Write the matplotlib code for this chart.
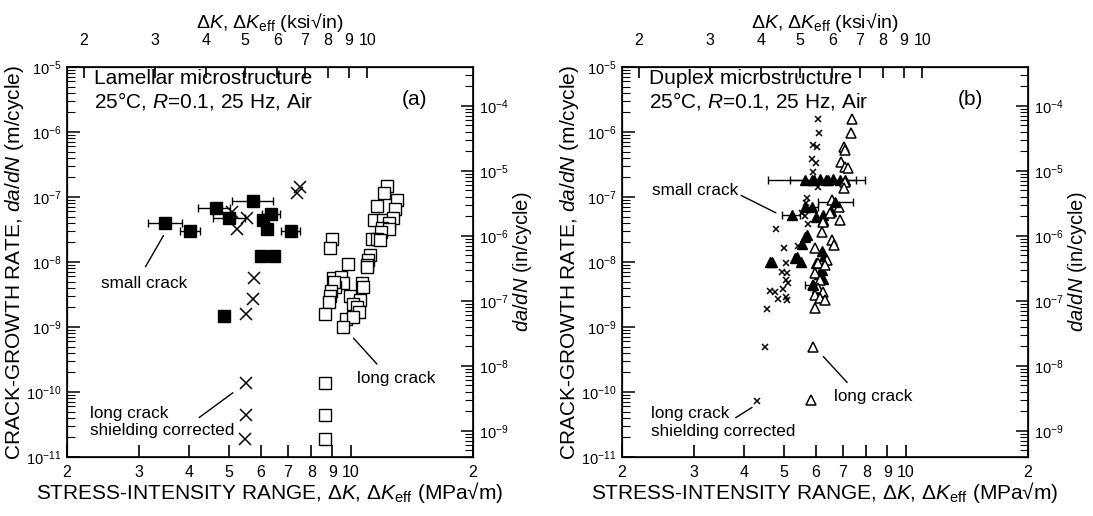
import numpy as np
import matplotlib
matplotlib.use('Agg')
from matplotlib import pyplot as plt
from matplotlib.ticker import (FixedLocator, FixedFormatter, NullLocator,
                               NullFormatter, LogLocator)

plt.rcParams['font.family'] = ['Liberation Sans', 'DejaVu Sans']
plt.rcParams['mathtext.fontset'] = 'custom'
plt.rcParams['mathtext.rm'] = 'Liberation Sans'
plt.rcParams['mathtext.it'] = 'Liberation Sans:italic'
plt.rcParams['mathtext.bf'] = 'Liberation Sans:bold'
plt.rcParams['axes.unicode_minus'] = False

M_PER_IN = 0.0254
MPA_PER_KSI = 1.0988

bottom_ticks = [2, 3, 4, 5, 6, 7, 8, 9, 10, 20]
bottom_labels = ['2', '3', '4', '5', '6', '7', '8', '9', '10', '2']
top_ticks = [2, 3, 4, 5, 6, 7, 8, 9, 10]
top_labels = ['2', '3', '4', '5', '6', '7', '8', '9', '10']

# ---- (a) lamellar ----
# small crack, with scatter bands
a_bar_x = [3.49, 4.02, 4.66, 5.02, 5.75, 6.35, 7.11]
a_bar_y = [4.0e-8, 3.0e-8, 6.8e-8, 4.8e-8, 8.7e-8, 5.4e-8, 3.0e-8]
a_bar_lo = [3.17, 3.80, 4.21, 4.58, 5.09, 6.03, 6.72]
a_bar_hi = [3.83, 4.24, 5.04, 5.49, 6.42, 6.69, 7.50]
# small crack, single points
a_small_x = [6.07, 6.21, 6.00, 6.47, 4.87]
a_small_y = [4.5e-8, 3.2e-8, 1.24e-8, 1.24e-8, 1.5e-9]
# long crack, shielding corrected
a_corr_x = [7.50, 7.36, 5.09, 5.24, 5.54, 5.78, 5.73, 5.52, 5.52, 5.52, 5.49]
a_corr_y = [1.44e-7, 1.14e-7, 5.9e-8, 3.2e-8, 4.7e-8, 5.6e-9, 2.7e-9,
            1.6e-9, 1.4e-10, 4.4e-11, 1.9e-11]
# long crack
a_long_x = [12.30, 12.07, 13.02, 11.62, 12.85, 11.41, 11.98, 12.73, 12.44,
            11.92, 12.44, 11.86, 11.26, 11.62, 11.79, 11.15, 11.04, 10.94,
            10.98, 8.98, 8.89, 9.86, 9.03, 9.44, 9.58, 9.14, 9.07, 8.95,
            8.89, 8.85, 10.64, 10.73, 9.95, 10.54, 10.15, 10.34, 10.49,
            9.73, 10.10, 9.55, 8.64, 8.64, 8.64, 8.64]
a_long_y = [1.48e-7, 1.14e-7, 9.0e-8, 7.3e-8, 6.5e-8, 4.5e-8, 4.5e-8, 4.7e-8,
            4.0e-8, 3.3e-8, 3.2e-8, 2.9e-8, 2.24e-8, 2.24e-8, 2.19e-8,
            1.28e-8, 1.07e-8, 9.0e-9, 8.3e-9, 2.24e-8, 1.63e-8, 9.3e-9,
            5.6e-9, 5.9e-9, 4.7e-9, 4.2e-9, 4.9e-9, 3.6e-9, 3.0e-9, 2.45e-9,
            4.8e-9, 4.2e-9, 3.0e-9, 2.6e-9, 2.3e-9, 2.05e-9, 1.72e-9,
            1.31e-9, 1.41e-9, 1.01e-9, 1.58e-9, 1.39e-10, 4.5e-11, 1.87e-11]

# ---- (b) duplex ----
b_bar_x = [5.87, 6.43, 5.24, 6.69, 5.92, 5.86]
b_bar_y = [1.8e-7, 1.8e-7, 5.3e-8, 8.5e-8, 4.4e-9, 7.1e-8]
b_bar_lo = [4.58, 5.19, 4.95, 6.07, 5.64, 5.62]
b_bar_hi = [7.54, 7.94, 5.50, 7.39, 6.10, 6.08]
b_small_x = [5.64, 5.95, 6.14, 6.36, 6.60, 6.90, 7.10, 5.64, 6.25, 6.00,
             6.26, 6.55, 5.64, 5.70, 5.34, 4.68, 4.62, 5.51, 5.40, 5.55,
             6.02, 6.20, 6.30, 6.10, 6.25, 6.05, 6.02, 6.20]
b_small_y = [1.8e-7, 1.85e-7, 1.9e-7, 1.8e-7, 1.9e-7, 1.85e-7, 1.8e-7,
             7.1e-8, 5.3e-8, 5.0e-8, 4.4e-8, 6.0e-8, 2.45e-8, 2.6e-8,
             1.14e-8, 1.0e-8, 1.0e-8, 1.0e-8, 1.2e-8, 1.9e-8, 9.5e-9,
             1.5e-8, 1.25e-8, 6.5e-9, 5.5e-9, 4.0e-9, 3.3e-9, 7.5e-9]
b_corr_x = [6.09, 6.12, 5.92, 6.05, 5.86, 6.02, 5.92, 6.09, 5.70, 5.68,
            5.54, 5.64, 5.74, 4.79, 5.01, 5.44, 5.07, 4.95, 5.09, 5.07,
            5.14, 4.97, 4.63, 4.76, 4.83, 5.07, 5.11, 4.56, 4.50, 4.29]
b_corr_y = [1.57e-6, 9.8e-7, 6.3e-7, 5.8e-7, 3.8e-7, 3.3e-7, 2.45e-7,
            1.44e-7, 9.5e-8, 8.2e-8, 5.6e-8, 5.1e-8, 3.9e-8, 3.2e-8,
            1.63e-8, 1.76e-8, 9.5e-9, 7.1e-9, 6.7e-9, 5.3e-9, 4.7e-9,
            3.9e-9, 3.6e-9, 3.5e-9, 2.67e-9, 2.9e-9, 2.6e-9, 1.87e-9,
            5.0e-10, 7.4e-11]
b_long_x = [7.36, 7.32, 7.03, 7.09, 6.94, 7.09, 7.20, 7.08, 7.03, 6.57,
            6.83, 6.50, 6.89, 6.25, 6.22, 6.57, 6.65, 5.98, 6.39, 6.09,
            6.32, 5.98, 6.14, 5.92, 6.09, 6.26, 5.98, 6.14, 6.32, 5.98,
            5.92, 5.85]
b_long_y = [1.6e-6, 9.55e-7, 5.94e-7, 5.3e-7, 3.5e-7, 2.92e-7, 2.77e-7,
            1.72e-7, 1.36e-7, 9.0e-8, 7.1e-8, 5.61e-8, 4.43e-8, 4.17e-8,
            2.92e-8, 2.18e-8, 1.83e-8, 1.63e-8, 1.07e-8, 9.55e-9, 9.0e-9,
            6.7e-9, 5.29e-9, 4.43e-9, 3.94e-9, 3.5e-9, 3.1e-9, 2.76e-9,
            2.6e-9, 1.94e-9, 5.0e-10, 7.45e-11]


def setup(ax, title1, title2, tag):
    ax.set_xscale('log')
    ax.set_yscale('log')
    ax.set_xlim(2, 20)
    ax.set_ylim(1e-11, 1e-5)
    for s in ax.spines.values():
        s.set_linewidth(1.2)
    ax.xaxis.set_major_locator(FixedLocator(bottom_ticks))
    ax.xaxis.set_major_formatter(FixedFormatter(bottom_labels))
    ax.xaxis.set_minor_locator(NullLocator())
    ax.tick_params(axis='x', which='major', direction='in', length=9,
                   width=1.2, labelsize=11.5, pad=6)
    ax.yaxis.set_major_locator(LogLocator(base=10, numticks=20))
    ax.yaxis.set_minor_locator(LogLocator(base=10, subs=np.arange(2, 10),
                                          numticks=20))
    ax.yaxis.set_minor_formatter(NullFormatter())
    ax.tick_params(axis='y', which='major', direction='in', length=9,
                   width=1.1, labelsize=10.5, pad=4)
    ax.tick_params(axis='y', which='minor', direction='in', length=6,
                   width=0.8)
    ax.set_xlabel(r'STRESS-INTENSITY RANGE, $\Delta K$, $\Delta K_{\rm eff}$ (MPa√m)',
                  fontsize=15, labelpad=0)
    ax.set_ylabel(r'CRACK-GROWTH RATE, $da/dN$ (m/cycle)', fontsize=15,
                  labelpad=0)

    top = ax.twiny()
    top.set_xscale('log')
    top.set_xlim(2 / MPA_PER_KSI, 20 / MPA_PER_KSI)
    top.xaxis.set_major_locator(FixedLocator(top_ticks))
    top.xaxis.set_major_formatter(FixedFormatter(top_labels))
    top.xaxis.set_minor_locator(NullLocator())
    top.tick_params(axis='x', which='major', direction='in', length=8,
                    width=1.2, labelsize=11.5, pad=14)
    top.set_xlabel(r'$\Delta K$, $\Delta K_{\rm eff}$ (ksi√in)', fontsize=14,
                   labelpad=3)

    right = ax.twinx()
    right.set_yscale('log')
    right.set_ylim(1e-11 / M_PER_IN, 1e-5 / M_PER_IN)
    right.yaxis.set_major_locator(LogLocator(base=10, numticks=20))
    right.yaxis.set_minor_locator(LogLocator(base=10, subs=np.arange(2, 10),
                                             numticks=20))
    right.yaxis.set_minor_formatter(NullFormatter())
    right.tick_params(axis='y', which='major', direction='in', length=9,
                      width=1.1, labelsize=10.5, pad=4)
    right.tick_params(axis='y', which='minor', direction='in', length=6,
                      width=0.8)
    right.set_ylabel(r'$da/dN$ (in/cycle)', fontsize=14.5, labelpad=2)

    ax.text(0.067, 0.970, title1, transform=ax.transAxes, fontsize=15,
            ha='left', va='center')
    ax.text(0.067, 0.913, title2, transform=ax.transAxes, fontsize=15,
            ha='left', va='center')
    ax.text(0.857, 0.916, tag, transform=ax.transAxes, fontsize=15,
            ha='center', va='center')


def leader(ax, text, xy, xytext, tx, ty, ha='left'):
    ax.annotate('', xy=xy, xytext=xytext, xycoords='axes fraction',
                textcoords='axes fraction',
                arrowprops=dict(arrowstyle='-', color='black', lw=1.0))
    ax.text(tx, ty, text, transform=ax.transAxes, fontsize=12.3, ha=ha,
            va='center')


fig = plt.figure(figsize=(10.93, 5.16), dpi=100)
ax1 = fig.add_axes([0.0613, 0.1143, 0.3715, 0.7558])
ax2 = fig.add_axes([0.5691, 0.1143, 0.3715, 0.7558])

# panel (a)
a_err = [np.array(a_bar_x) - np.array(a_bar_lo), np.array(a_bar_hi) - np.array(a_bar_x)]
ax1.errorbar(a_bar_x, a_bar_y, xerr=a_err, fmt='s', color='black', ms=8.5,
             capsize=3, elinewidth=1, capthick=1)
ax1.plot(a_small_x, a_small_y, 's', color='black', ms=8.5)
ax1.plot(a_corr_x, a_corr_y, 'x', color='black', ms=8, mew=1.1)
ax1.plot(a_long_x, a_long_y, 's', mfc='white', mec='black', ms=8, mew=1.0)
setup(ax1, 'Lamellar microstructure', r'25°C, $R$=0.1, 25 Hz, Air', '(a)')
leader(ax1, 'small crack', (0.241, 0.574), (0.190, 0.482), 0.190, 0.444,
       ha='center')
leader(ax1, 'long crack', (0.701, 0.310), (0.768, 0.233), 0.714, 0.201)
leader(ax1, 'long crack\nshielding corrected', (0.414, 0.169), (0.320, 0.097),
       0.056, 0.090)

# panel (b)
b_err = [np.array(b_bar_x) - np.array(b_bar_lo), np.array(b_bar_hi) - np.array(b_bar_x)]
ax2.errorbar(b_bar_x, b_bar_y, xerr=b_err, fmt='^', color='black', ms=6.5,
             capsize=3, elinewidth=1, capthick=1)
ax2.plot(b_small_x, b_small_y, '^', color='black', ms=6.5)
ax2.plot(b_corr_x, b_corr_y, 'x', color='black', ms=5, mew=1.1)
ax2.plot(b_long_x, b_long_y, '^', mfc='white', mec='black', ms=6.5, mew=1.1)
setup(ax2, 'Duplex microstructure', r'25°C, $R$=0.1, 25 Hz, Air', '(b)')
leader(ax2, 'small crack', (0.287, 0.674), (0.385, 0.623), 0.287, 0.683,
       ha='right')
leader(ax2, 'long crack', (0.491, 0.263), (0.559, 0.186), 0.521, 0.156)
leader(ax2, 'long crack\nshielding corrected', (0.274, 0.097), (0.326, 0.131),
       0.072, 0.089)

fig.savefig('out.png', dpi=100)
